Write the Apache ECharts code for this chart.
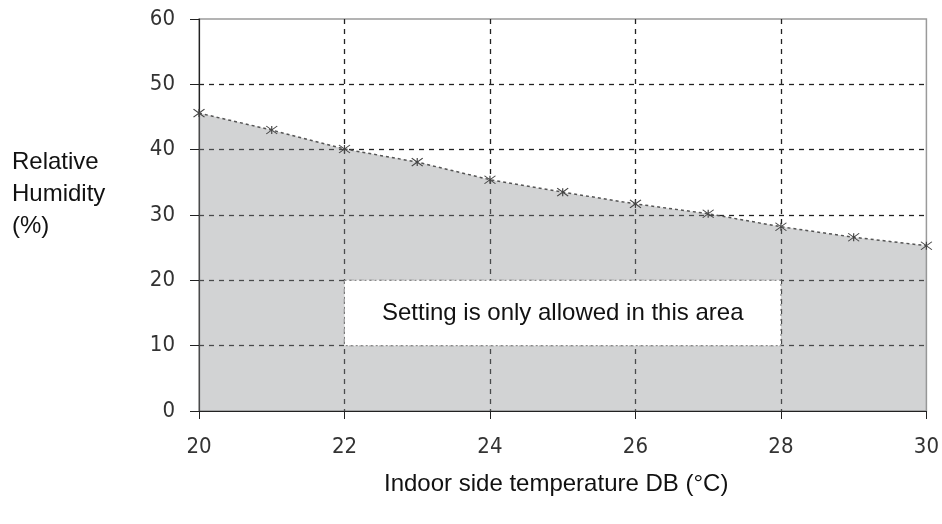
<!DOCTYPE html>
<html><head><meta charset="utf-8">
<script src="https://cdn.jsdelivr.net/npm/echarts@6/dist/echarts.min.js"></script>
<style>html,body{margin:0;padding:0;background:#fff}#c{width:942px;height:524px}</style>
</head><body><div id="c"></div>
<script>
const temperatures = [20, 21, 22, 23, 24, 25, 26, 27, 28, 29, 30];
const humidity = [45.6, 43.0, 40.1, 38.1, 35.4, 33.5, 31.7, 30.2, 28.2, 26.6, 25.3];
const boxTemp = [22, 28];
const boxHum = [20, 10];
const boxText = 'Setting is only allowed in this area';
const yTitle = 'Relative\nHumidity\n(%)';
const xTitle = 'Indoor side temperature DB (°C)';

const chart = echarts.init(document.getElementById('c'), null, {renderer: 'canvas'});
const tickFont = {fontFamily: "'Liberation Sans Narrow', 'DejaVu Sans Condensed', 'DejaVu Sans Mono', sans-serif", fontSize: 22, color: '#333'};
const split = {show: true, showMinLine: false, showMaxLine: false, lineStyle: {color: '#222', type: [5, 5], width: 1.3}};
chart.setOption({
  animation: false,
  grid: {left: 199, right: 13, top: 19, bottom: 113, show: true, borderColor: '#9a9a9a', borderWidth: 1.5, backgroundColor: 'transparent'},
  xAxis: {
    type: 'value', min: 20, max: 30, interval: 2,
    axisLine: {show: true, lineStyle: {color: '#222', width: 1.2}},
    axisTick: {show: true, length: 8, lineStyle: {color: '#222'}},
    axisLabel: Object.assign({margin: 25}, tickFont),
    splitLine: split
  },
  yAxis: {
    type: 'value', min: 0, max: 60, interval: 10,
    axisLine: {show: true, lineStyle: {color: '#222', width: 1.2}},
    axisTick: {show: true, length: 9, lineStyle: {color: '#222'}},
    axisLabel: Object.assign({margin: 24}, tickFont),
    splitLine: split
  },
  series: [{
    type: 'line',
    data: temperatures.map((t, i) => [t, humidity[i]]),
    symbol: 'path://M0,0L10,10M10,0L0,10M5,0L5,10',
    symbolSize: [11, 8],
    itemStyle: {color: 'rgba(0,0,0,0)', borderColor: '#444', borderWidth: 1},
    lineStyle: {color: '#555', width: 1.5, type: [3, 3]},
    areaStyle: {color: 'rgba(138,140,144,0.55)', origin: 'start'},
    markArea: {
      silent: true,
      z: 10,
      itemStyle: {color: '#ffffff', opacity: 1, borderColor: '#777', borderWidth: 1, borderType: [2, 3]},
      label: {show: true, position: 'inside', formatter: boxText, fontFamily: 'Liberation Sans', fontSize: 24, color: '#111'},
      data: [[{coord: [boxTemp[0], boxHum[0]]}, {coord: [boxTemp[1], boxHum[1]]}]]
    }
  }],
  graphic: [
    {type: 'text', left: 12, top: 146, style: {text: yTitle, fontFamily: 'Liberation Sans', fontSize: 24, lineHeight: 32, fill: '#111'}},
    {type: 'text', left: 384, top: 472, style: {text: xTitle, fontFamily: 'Liberation Sans', fontSize: 24, fill: '#111'}}
  ]
});
</script></body></html>
